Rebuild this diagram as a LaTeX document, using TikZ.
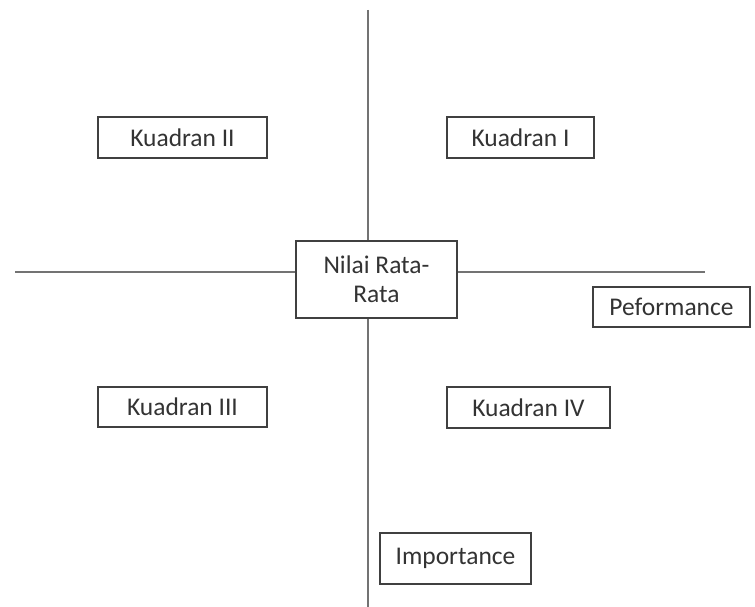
\documentclass[tikz,border=0pt]{standalone}
\usepackage{fontspec}
\setmainfont{Carlito}
\usepackage{tikz}
\usetikzlibrary{positioning}
\tikzstyle{axis} = [-, draw = black!55, line width=0.6pt]
\tikzstyle{kotak} = [rectangle, draw=black!75, line width=0.6pt, fill=white, inner sep=2pt, font=\fontsize{14.5}{16.5}\selectfont, text=black!80]

\begin{document}
\begin{tikzpicture}[x=0.02cm, y=-0.02cm]
\useasboundingbox (0, 0) rectangle (755, 607);
\coordinate (top) at (368, 10);
\coordinate (bottom) at (368, 607);
\coordinate (left) at (15, 272);
\coordinate (right) at (705, 272);
\draw [axis] (top) to (bottom);
\draw [axis] (left) to (right);
\node [kotak, minimum width=3.38cm, minimum height=0.82cm] (K2) at (182.5, 137.5) {Kuadran II};
\node [kotak, minimum width=2.94cm, minimum height=0.82cm] (K1) at (520.5, 137.5) {Kuadran I};
\node [kotak, minimum width=3.22cm, minimum height=1.54cm, align=center] (NR) at (376.5, 279.5) {Nilai Rata-\\Rata};
\node [kotak, minimum width=3.14cm, minimum height=0.8cm] (P) at (671.5, 307) {Peformance};
\node [kotak, minimum width=3.38cm, minimum height=0.8cm] (K3) at (182.5, 407) {Kuadran III};
\node [kotak, minimum width=3.26cm, minimum height=0.82cm] (K4) at (528.5, 407.5) {Kuadran IV};
\node [kotak, minimum width=3.02cm, minimum height=1.02cm] (I) at (455.5, 558.5) {Importance};
\end{tikzpicture}
\end{document}
